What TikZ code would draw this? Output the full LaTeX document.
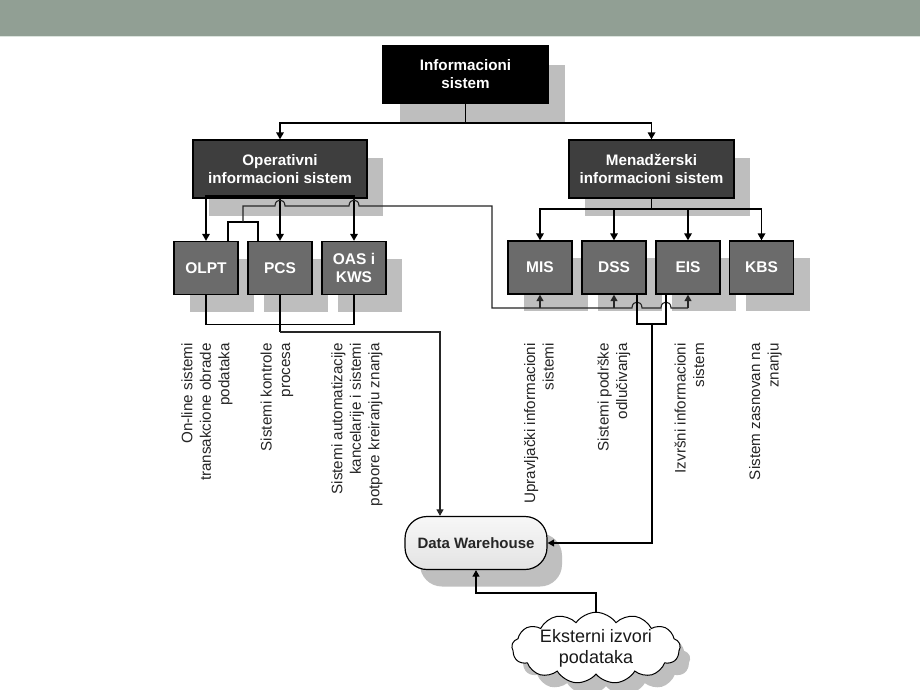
\documentclass[tikz,border=0pt]{standalone}
\usepackage{fontspec}
\setmainfont{Liberation Sans}
\usetikzlibrary{shapes.symbols,shadows,arrows.meta}
\definecolor{banner}{HTML}{919F94}
\definecolor{bannerline}{HTML}{DCE4DE}
\definecolor{darkbox}{HTML}{3E3E3E}
\definecolor{sysfill}{HTML}{6B6B6B}
\definecolor{shade}{HTML}{BEBEBE}
\definecolor{wire}{HTML}{262626}

\begin{document}
\begin{tikzpicture}[x=1pt,y=-1pt,
  box/.style={draw=black, line width=1.3pt, text=white, align=center, inner sep=0pt,
    font=\bfseries\fontsize{15.2}{18}\selectfont},
  rootbox/.style={box, fill=black, minimum width=165pt, minimum height=57pt,
    drop shadow={shadow xshift=17pt, shadow yshift=-19pt, fill=shade, opacity=1}},
  groupbox/.style={box, fill=darkbox, minimum height=58pt,
    drop shadow={shadow xshift=16pt, shadow yshift=-18pt, fill=shade, opacity=1}},
  sysnode/.style={box, fill=sysfill, minimum width=64pt, minimum height=53pt,
    font=\bfseries\fontsize{15.5}{18}\selectfont,
    drop shadow={shadow xshift=16pt, shadow yshift=-17pt, fill=shade, opacity=1}},
  caption/.style={rotate=90, anchor=east, align=right, inner sep=0pt, text=black!85,
    font=\fontsize{15.2}{18.5}\selectfont},
  feed/.style={line width=1.6pt, -{Triangle[length=7pt,width=7.5pt]}},
  link/.style={line width=1.3pt},
  wireline/.style={line width=1.1pt, draw=wire},
  tip/.style={-{Triangle[length=6.5pt,width=7pt]}},
]
\useasboundingbox (0,0) rectangle (920,690);
\fill[white] (0,0) rectangle (920,690);
% header band
\fill[banner] (0,0) rectangle (920,36);
\draw[bannerline, line width=1pt] (0,36.5) -- (920,36.5);

% hierarchy boxes
\node[rootbox] (is) at (465.5,74.5) {Informacioni\\sistem};
\node[groupbox, minimum width=174pt] (ois) at (280,169) {Operativni\\informacioni sistem};
\node[groupbox, minimum width=165pt] (menis) at (651.5,169) {Menadžerski\\informacioni sistem};

\node[sysnode] (olpt) at (206,268) {OLPT};
\node[sysnode] (pcs) at (280,268) {PCS};
\node[sysnode] (oas) at (354,268) {OAS i\\KWS};

\node[sysnode] (misb) at (540,267.5) {MIS};
\node[sysnode] (dss) at (614,267.5) {DSS};
\node[sysnode] (eis) at (688,267.5) {EIS};
\node[sysnode] (kbs) at (761.5,267.5) {KBS};

% data warehouse and external sources
\node[draw=black, line width=1.2pt, rounded corners=22pt, minimum width=142pt, minimum height=53pt,
  top color=gray!6, bottom color=gray!22, text=black!85, font=\bfseries\fontsize{15}{18}\selectfont,
  drop shadow={shadow xshift=15pt, shadow yshift=-17pt, fill=gray!50, opacity=1}] (dw) at (476,543) {Data Warehouse};

\node[cloud, cloud puffs=13, cloud puff arc=110, aspect=3.2, draw=black, line width=1pt, fill=white,
  inner xsep=3pt, inner ysep=-4pt, align=center, font=\fontsize{18}{21}\selectfont, text=black!90,
  drop shadow={shadow xshift=10pt, shadow yshift=-12pt, fill=gray!50, opacity=1}] (ext) at (596,648)
  {Eksterni izvori\\podataka};

% captions under the subsystems
\node[caption] (olptcap) at (207,343) {On-line sistemi\\transakcione obrade\\podataka};
\node[caption] (pcscap) at (277,343) {Sistemi kontrole\\procesa};
\node[caption] (oascap) at (357,343) {Sistemi automatizacije\\kancelarije i sistemi\\potpore kreiranju znanja};
\node[caption] (miscap) at (539,343) {Upravljački informacioni\\sistemi};
\node[caption] (dsscap) at (614,343) {Sistemi podrške\\odlučivanja};
\node[caption] (eiscap) at (689.5,343) {Izvršni informacioni\\sistem};
\node[caption] (kbscap) at (765.5,343) {Sistem zasnovan na\\znanju};

% hierarchy connectors
\coordinate (rootbus) at (465.5,123);
\coordinate (opbus) at (280,196);
\coordinate (menbus) at (651.5,209);
\draw[line width=1.6pt] (is.south) -- (rootbus);
\draw[feed] (rootbus) -| (ois.north);
\draw[feed] (rootbus) -| (menis.north);
\draw[feed] (ois.south) -- (pcs.north);
\draw[feed] (opbus) -| (olpt.north);
\draw[feed] (opbus) -| (oas.north);
\draw[line width=1.6pt] (menis.south) -- (menbus);
\foreach \n in {misb,dss,eis,kbs} \draw[feed] (menbus) -| (\n.north);

% OLPT + PCS feed the management systems
\coordinate (opjoin) at (243,222);
\coordinate (wtop) at (243,206);
\coordinate (wturn) at (492,206);
\coordinate (wlow) at (492,308);
\coordinate (wend) at (688,308);
\draw[link] ([xshift=22pt]olpt.north) |- (opjoin) -| ([xshift=-22pt]pcs.north);
\draw[wireline] (opjoin) -- (wtop) -- (275,206) .. controls (275,198) and (285,198) .. (285,206)
  -- (349,206) .. controls (349,198) and (359,198) .. (359,206) -- (wturn) -- (wlow)
  -- (632,308) .. controls (632,300) and (642,300) .. (642,308)
  -- (661,308) .. controls (661,300) and (671,300) .. (671,308) -- (wend);
\draw[wireline, tip] (wlow -| misb.south) -- (misb.south);
\draw[wireline, tip] (wlow -| dss.south) -- (dss.south);
\draw[wireline, tip] (wend) -- (eis.south);

% operational systems into the warehouse
\coordinate (dwturn) at (440,332);
\draw[link] (olpt.south) -- ++(0,29) -| (oas.south);
\draw[link] (pcs.south) -- (pcs.south |- dwturn);
\draw[wireline, tip] (pcs.south |- dwturn) -- (dwturn) -- (dwturn |- dw.north);

% DSS + EIS into the warehouse
\coordinate (dejoin) at (652,324);
\draw[link] ([xshift=23pt]dss.south) |- (dejoin) -| ([xshift=-22pt]eis.south);
\draw[line width=1.1pt, tip] (dejoin) |- (dw.east);

% external sources into the warehouse
\coordinate (extbend) at (596,593);
\draw[line width=1.2pt, tip] (ext.north) -- (extbend) -| (dw.south);
\end{tikzpicture}
\end{document}
